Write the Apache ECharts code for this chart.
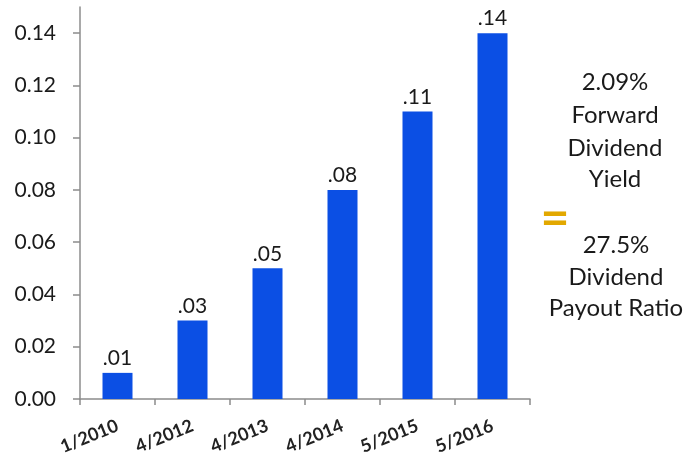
<!DOCTYPE html>
<html><head><meta charset="utf-8">
<script src="https://cdn.jsdelivr.net/npm/echarts@6/dist/echarts.min.js"></script>
<style>html,body{margin:0;padding:0;background:#fff}#c{width:690px;height:461px}</style>
</head><body><div id="c"></div>
<script>
const categories = ['1/2010','4/2012','4/2013','4/2014','5/2015','5/2016'];
const dividends = [0.01, 0.03, 0.05, 0.08, 0.11, 0.14];
const dividendLabels = ['.01','.03','.05','.08','.11','.14'];
const yTicks = [0, 0.02, 0.04, 0.06, 0.08, 0.10, 0.12, 0.14];
const sideTop = ['2.09%', 'Forward', 'Dividend', 'Yield'];
const sideBottom = ['27.5%', 'Dividend', 'Payout Ratio'];

const FONT = 'Lato, "Noto Sans", sans-serif';
const chart = echarts.init(document.getElementById('c'), null, {renderer: 'canvas'});
const sideTexts = [];
const topY = [82, 115, 148, 179];
const botY = [245, 277, 308];
sideTop.forEach((t, i) => sideTexts.push({type: 'text', x: 615, y: topY[i], style: {text: t, font: '24px ' + FONT, fill: '#1a1a1a', textAlign: 'center', textVerticalAlign: 'middle'}}));
sideBottom.forEach((t, i) => sideTexts.push({type: 'text', x: 616, y: botY[i], style: {text: t, font: '24px ' + FONT, fill: '#1a1a1a', textAlign: 'center', textVerticalAlign: 'middle'}}));
sideTexts.push({type: 'text', x: 555, y: 219, style: {text: '=', font: 'bold 50px ' + FONT, fill: '#e2a800', textAlign: 'center', textVerticalAlign: 'middle'}});

chart.setOption({
  animation: false,
  grid: {left: 80, right: 160, top: 7, bottom: 62, containLabel: false},
  xAxis: {
    type: 'category', data: categories,
    axisLine: {lineStyle: {color: '#8c8c8c', width: 1.5}},
    axisTick: {show: true, alignWithLabel: false, length: 6, lineStyle: {color: '#8c8c8c', width: 1.5}},
    axisLabel: {rotate: 22, margin: 26, fontSize: 18, fontFamily: FONT, fontWeight: 'bold', color: '#222'}
  },
  yAxis: {
    type: 'value', min: 0, max: 0.15,
    splitLine: {show: false},
    axisLine: {show: true, lineStyle: {color: '#8c8c8c', width: 1.5}},
    axisTick: {show: true, length: 7, customValues: yTicks, lineStyle: {color: '#8c8c8c', width: 1.5}},
    axisLabel: {customValues: yTicks, margin: 24, fontSize: 21, fontFamily: FONT, color: '#1a1a1a',
      formatter: v => v.toFixed(2)}
  },
  series: [{
    type: 'bar', data: dividends, barWidth: 30,
    itemStyle: {color: '#0b4fe4'},
    label: {show: true, position: 'top', distance: 4, fontSize: 21, fontFamily: FONT, color: '#1a1a1a',
      formatter: p => dividendLabels[p.dataIndex]}
  }],
  graphic: sideTexts
});
</script></body></html>
